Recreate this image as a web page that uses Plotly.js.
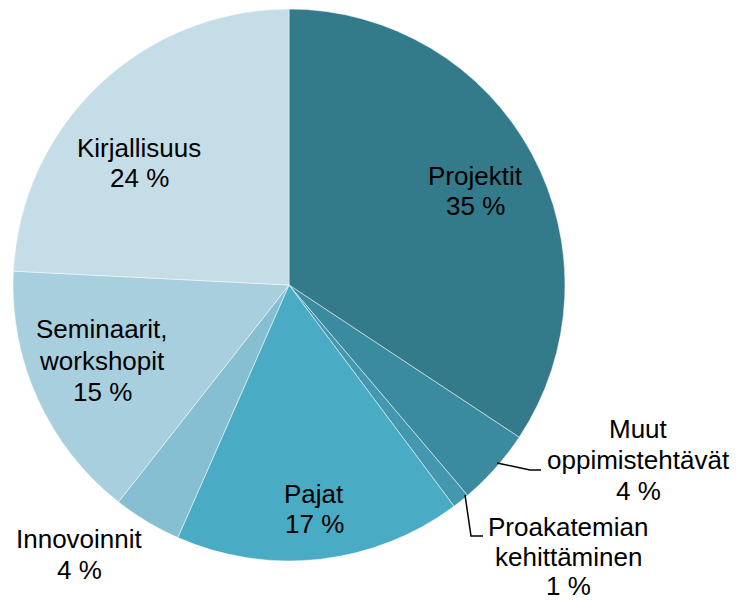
<!DOCTYPE html>
<html>
<head>
<meta charset="utf-8">
<script src="https://cdn.plot.ly/plotly-3.0.1.min.js"></script>
<style>html,body{margin:0;padding:0;background:#fff;}#chart{width:738px;height:601px;}</style>
</head>
<body>
<div id="chart"></div>
<script>
// Data
const categories = ["Projektit", "Muut oppimistehtävät", "Proakatemian kehittäminen", "Pajat", "Innovoinnit", "Seminaarit, workshopit", "Kirjallisuus"];
const shares = [34.3, 4.5, 1.0, 16.8, 4.0, 15.2, 24.2];
const percentLabels = ["35 %", "4 %", "1 %", "17 %", "4 %", "15 %", "24 %"];
const labelLines = [
  ["Projektit"],
  ["Muut", "oppimistehtävät"],
  ["Proakatemian", "kehittäminen"],
  ["Pajat"],
  ["Innovoinnit"],
  ["Seminaarit,", "workshopit"],
  ["Kirjallisuus"]
];
const colors = ["#337A8B", "#3A8AA0", "#4398AF", "#4AABC4", "#86BFD1", "#A8CFDD", "#C5DDE6"];

// Layout (pixel positions of label blocks: center x, baseline of first line)
const W = 738, H = 601;
const cx = 289, cy = 285, R = 276;
const labelPos = [
  [475, 185], [638, 438], [568, 536], [314, 503], [79, 548], [102, 338], [139, 157]
];
const lineGaps = [30, 31, 29.5, 30, 31, 31.5, 30];
const fontSize = 26;

const px = x => x / W;
const py = y => 1 - y / H;

const annotations = [];
categories.forEach((c, i) => {
  const lines = labelLines[i].concat([percentLabels[i]]);
  lines.forEach((t, k) => {
    const base = labelPos[i][1] + k * lineGaps[i];
    annotations.push({
      text: t, xref: "paper", yref: "paper",
      x: px(labelPos[i][0]), y: py(base - 9),
      xanchor: "center", yanchor: "middle", showarrow: false,
      font: {family: "Liberation Sans, Arial, sans-serif", size: fontSize, color: "#000"}
    });
  });
});

const shapes = [
  {type: "path", xref: "paper", yref: "paper",
   path: `M${px(497)},${py(463)} L${px(530)},${py(470)} L${px(541)},${py(470)}`,
   line: {color: "#000", width: 1.5}},
  {type: "path", xref: "paper", yref: "paper",
   path: `M${px(465)},${py(495)} L${px(471)},${py(536)} L${px(483)},${py(536)}`,
   line: {color: "#000", width: 1.5}}
];

const trace = {
  type: "pie",
  labels: categories,
  values: shares,
  sort: false,
  direction: "clockwise",
  rotation: 0,
  textinfo: "none",
  hoverinfo: "label+percent",
  marker: {colors: colors, line: {color: "rgba(255,255,255,0.6)", width: 0.8}},
  domain: {x: [(cx - R) / W, (cx + R) / W], y: [1 - (cy + R) / H, 1 - (cy - R) / H]}
};

const layout = {
  width: W, height: H,
  margin: {l: 0, r: 0, t: 0, b: 0},
  paper_bgcolor: "#fff",
  showlegend: false,
  annotations: annotations,
  shapes: shapes
};

Plotly.newPlot("chart", [trace], layout, {displayModeBar: false, staticPlot: true});
</script>
</body>
</html>
